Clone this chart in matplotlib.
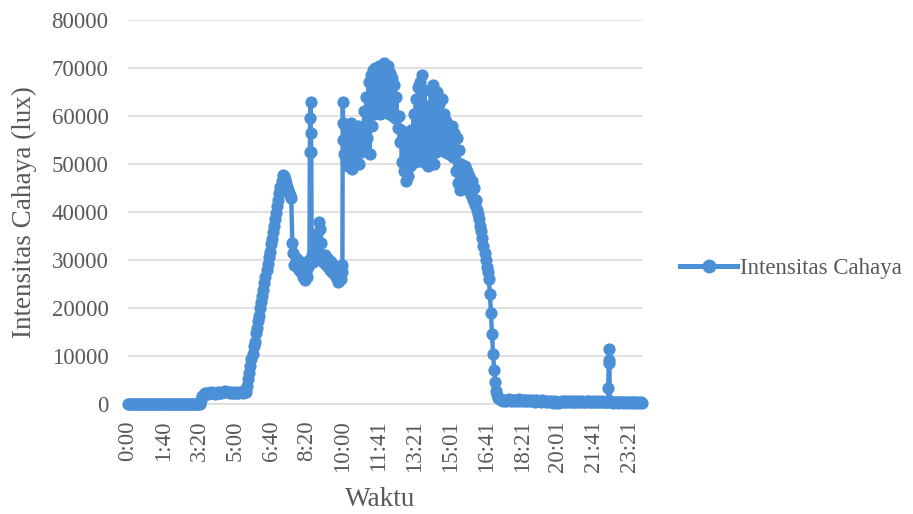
import matplotlib
matplotlib.use("Agg")
import matplotlib.pyplot as plt
from matplotlib.lines import Line2D

# ---------------- data ----------------
# Each block: readings taken at a fixed interval (minutes) from a start time.
dini_hari = [  # 0:00, every 4 min
    0, 0, 0, 0, 0, 0, 0, 0, 0, 0,
    0, 0, 0, 0, 0, 0, 0, 0, 0, 0,
    0, 0, 0, 0, 0, 0, 0, 0, 0, 0,
    0, 0, 0, 0, 0, 0, 0, 0, 0, 0,
    0, 0, 0, 0, 0, 0, 0, 0, 0, 0,
    0,
]
subuh = [  # 3:24, every 4 min
    900, 1700, 2100, 2200, 2300, 2100, 2200, 2400, 2300, 2200,
    2100, 2300, 2400, 2200, 2300, 2500, 2600, 2700, 2500, 2400,
    2300, 2400, 2200, 2300, 2400, 2200, 2300, 2500, 2400, 2300,
    2400, 2600,
]
pagi_naik = [  # 5:30, every 3 min
    2500, 3800, 5300, 6400, 8000, 9300, 10400, 12000, 12900, 14700,
    15800, 17300, 18400, 19900, 21200, 22600, 23700, 25300, 26400, 27900,
    29100, 30600, 31700, 33300, 34400, 35900, 37100, 38600, 39800, 41200,
    42500, 43900, 45200, 46500, 47800,
]
pagi_turun = [  # 7:15, every 3 min
    47500, 46800, 46000, 45200, 44500, 44000, 43500, 43000, 33500, 31500,
    29000, 30500, 28500, 30000, 28000, 29500, 27500, 28800, 26500, 27800,
    25800, 27500, 26500, 28500, 30000,
]
lonjakan_1 = [52500, 59500, 63000, 56500, 52500]  # 8:28, every 1 min
pagi_datar = [  # 8:33, every 3 min
    31000, 29500, 31500, 30500, 33000, 35500, 34000, 38000, 36500, 33500,
    31000, 29500, 31000, 29000, 30500, 28500, 30000, 28000, 29500, 27500,
    29000, 27000, 28500, 26500, 27500, 25500, 27000, 26000, 27500,
]
lonjakan_2 = [29000, 63000, 58500, 55000, 52000]  # 9:59, every 1 min
siang = [  # 10:06, every 3 min
    58000, 50500, 57500, 49500, 56500, 51000, 58500, 49000, 55500,
    50500, 57000, 52000, 58000, 50000, 55000, 52500, 57000,
    54000, 61000, 53000, 64000, 55500, 67000, 52000, 68500, 58000,
    69500, 60500, 70000, 61500, 69000, 62500, 70500, 60500, 69500,
    63000, 71000, 61500, 70000, 62000, 70500, 60500, 69000, 61500,
    68000, 60000, 66500, 59500, 64000, 57500, 60000,
    54500, 57000, 50500, 55500, 48500, 54000, 46500, 52500, 47500,
    55000, 49500, 57000, 51000, 60500, 50500, 63500, 52000, 66000,
    51500, 67000, 53000, 68500, 50500, 65500, 53500, 62000, 49500, 60000,
    51500, 65500, 53000, 66500, 50000, 64000, 52500, 65000, 53500,
    62500, 55000, 63500, 53000, 60500, 52500, 59000, 54000, 58000,
    52000, 57500, 53000, 58000, 51500, 56500, 48500, 55500, 46000,
    53000, 44500, 50000,
    45500, 49500, 46000, 49500, 45500, 48500, 44500, 47500, 43500,
    46500, 42500, 45000, 41500, 42500, 40500,
]
sore = [  # 16:18, every 3 min
    39500, 38500, 37000, 36000, 34500, 33000, 31500, 30000, 28500, 27500,
    26000, 23000, 19000, 14500, 10500, 7000, 4500, 2800, 1800, 1200,
    1000, 900,
]
malam = [  # 17:25, every 4 min
    800, 700, 900, 600, 800, 1000, 700, 900, 800, 600, 900, 700, 1000, 800, 700,
    900, 600, 800, 700, 900, 600, 800, 700, 500, 800, 600, 700, 500, 800, 600,
    700, 500, 600, 400, 700, 500, 300, 600, 400, 300, 500, 400, 600, 500, 700,
    500, 600, 400, 700, 500, 400, 600, 500, 400, 600, 500, 700, 400, 500, 600,
    400, 600, 500, 400, 700, 500, 400, 600, 500, 400, 600, 500, 400, 500, 400,
]
lonjakan_3 = [3300, 9200, 11500, 8500, 600]  # 22:22, every 1 min
larut = [  # 22:28, every 4 min
    400, 500, 300, 400, 500, 300, 400, 500, 400, 300, 500, 400,
    300, 400, 500, 300, 400, 500, 300, 400, 300, 400, 300,
]

blok = [
    ("0:00", 4, dini_hari), ("3:24", 4, subuh), ("5:30", 3, pagi_naik),
    ("7:15", 3, pagi_turun), ("8:28", 1, lonjakan_1), ("8:33", 3, pagi_datar),
    ("9:59", 1, lonjakan_2), ("10:06", 3, siang), ("16:18", 3, sore),
    ("17:25", 4, malam), ("22:22", 1, lonjakan_3), ("22:28", 4, larut),
]

tick_labels = ["0:00", "1:40", "3:20", "5:00", "6:40", "8:20", "10:00", "11:41",
               "13:21", "15:01", "16:41", "18:21", "20:01", "21:41", "23:21"]
y_ticks = [0, 10000, 20000, 30000, 40000, 50000, 60000, 70000, 80000]
series_name = "Intensitas Cahaya"


def to_min(s):
    h, m = s.split(":")
    return int(h) * 60 + int(m)


x, y = [], []
for start, step, vals in blok:
    t0 = to_min(start)
    for i, v in enumerate(vals):
        x.append(t0 + i * step)
        y.append(v)
tick_pos = [to_min(t) for t in tick_labels]

# ---------------- figure ----------------
plt.rcParams['font.family'] = ['Liberation Serif', 'DejaVu Serif']
blue = "#4B8FD6"
grey_txt = "#595959"

fig = plt.figure(figsize=(9.13, 5.14), dpi=100)
ax = fig.add_axes([128 / 913, 110 / 514, 514 / 913, 384 / 514])

ax.plot(x, y, color=blue, lw=3.2, marker="o", ms=8.0,
        mfc=blue, mec=blue, mew=0.8, clip_on=False, zorder=3,
        solid_joinstyle="round")

ax.set_xlim(0, 1436)
ax.set_ylim(0, 80000)
ax.set_yticks(y_ticks)
ax.set_yticklabels([str(v) for v in y_ticks])
ax.set_xticks(tick_pos)
ax.set_xticklabels(tick_labels, rotation=90)

ax.grid(axis="y", color="#D9D9D9", lw=1.1)
ax.set_axisbelow(True)
for s in ["top", "right", "left"]:
    ax.spines[s].set_visible(False)
ax.spines["bottom"].set_color("#D9D9D9")
ax.spines["bottom"].set_linewidth(1.1)

ax.tick_params(axis="both", length=0, labelsize=16.5, labelcolor=grey_txt)
ax.tick_params(axis="y", pad=14)
ax.tick_params(axis="x", pad=12)

fig.text(24 / 913, 1 - 212 / 514, "Intensitas Cahaya (lux)", rotation=90,
         ha="center", va="center", fontsize=19.5, color=grey_txt)
fig.text(380 / 913, (514 - 506) / 514, "Waktu", ha="center", va="baseline",
         fontsize=19.5, color=grey_txt)

handle = Line2D([0], [0], color=blue, lw=3.6, marker="o", ms=9,
                mfc=blue, mec=blue)
fig.legend([handle], [series_name], loc="center left",
           bbox_to_anchor=(680 / 913, 1 - 268 / 514), frameon=False,
           fontsize=16.5, handlelength=2.5, handletextpad=0.1,
           borderpad=0, borderaxespad=0, labelcolor=grey_txt)

fig.savefig("out.png", dpi=100)
